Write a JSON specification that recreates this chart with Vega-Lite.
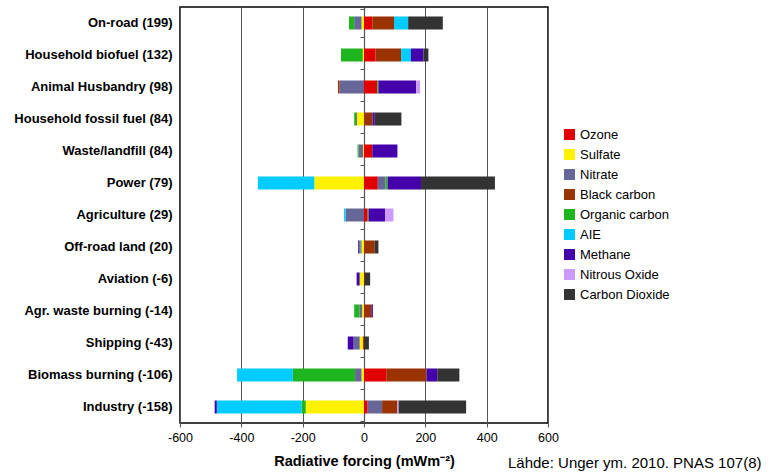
{
  "$schema": "https://vega.github.io/schema/vega-lite/v6.json",
  "autosize": {"type": "none"},
  "padding": {"left": 180, "top": 7, "right": 230, "bottom": 52},
  "width": 368,
  "height": 416,
  "background": "white",
  "config": {
    "font": "Liberation Sans",
    "view": {"stroke": "black", "strokeWidth": 1.5}
  },
  "title": {
    "text": "Lähde: Unger ym. 2010. PNAS 107(8)",
    "orient": "bottom",
    "anchor": "start",
    "frame": "group",
    "dx": 328,
    "offset": -12,
    "fontSize": 15,
    "fontWeight": "normal",
    "font": "Liberation Sans",
    "color": "black"
  },
  "datasets": {
    "componentOrder": [
      {"component": "Ozone", "rank": 1},
      {"component": "Sulfate", "rank": 2},
      {"component": "Nitrate", "rank": 3},
      {"component": "Black carbon", "rank": 4},
      {"component": "Organic carbon", "rank": 5},
      {"component": "AIE", "rank": 6},
      {"component": "Methane", "rank": 7},
      {"component": "Nitrous Oxide", "rank": 8},
      {"component": "Carbon Dioxide", "rank": 9}
    ]
  },
  "data": {
    "values": [
      {"source": "On-road (199)", "component": "Sulfate", "value": -8},
      {"source": "On-road (199)", "component": "Nitrate", "value": -24},
      {"source": "On-road (199)", "component": "Organic carbon", "value": -17},
      {"source": "On-road (199)", "component": "Ozone", "value": 27},
      {"source": "On-road (199)", "component": "Black carbon", "value": 71},
      {"source": "On-road (199)", "component": "AIE", "value": 46},
      {"source": "On-road (199)", "component": "Carbon Dioxide", "value": 113},

      {"source": "Household biofuel (132)", "component": "Sulfate", "value": -4},
      {"source": "Household biofuel (132)", "component": "Organic carbon", "value": -71},
      {"source": "Household biofuel (132)", "component": "Ozone", "value": 38},
      {"source": "Household biofuel (132)", "component": "Black carbon", "value": 83},
      {"source": "Household biofuel (132)", "component": "AIE", "value": 32},
      {"source": "Household biofuel (132)", "component": "Methane", "value": 41},
      {"source": "Household biofuel (132)", "component": "Carbon Dioxide", "value": 16},

      {"source": "Animal Husbandry (98)", "component": "Nitrate", "value": -80},
      {"source": "Animal Husbandry (98)", "component": "Black carbon", "value": -5},
      {"source": "Animal Husbandry (98)", "component": "Ozone", "value": 43},
      {"source": "Animal Husbandry (98)", "component": "Organic carbon", "value": 4},
      {"source": "Animal Husbandry (98)", "component": "Methane", "value": 123},
      {"source": "Animal Husbandry (98)", "component": "Nitrous Oxide", "value": 13},

      {"source": "Household fossil fuel (84)", "component": "Sulfate", "value": -23},
      {"source": "Household fossil fuel (84)", "component": "Nitrate", "value": -3},
      {"source": "Household fossil fuel (84)", "component": "Organic carbon", "value": -6},
      {"source": "Household fossil fuel (84)", "component": "Black carbon", "value": 28},
      {"source": "Household fossil fuel (84)", "component": "Methane", "value": 7},
      {"source": "Household fossil fuel (84)", "component": "Carbon Dioxide", "value": 87},

      {"source": "Waste/landfill (84)", "component": "Sulfate", "value": -3},
      {"source": "Waste/landfill (84)", "component": "Nitrate", "value": -15},
      {"source": "Waste/landfill (84)", "component": "Organic carbon", "value": -3},
      {"source": "Waste/landfill (84)", "component": "Ozone", "value": 27},
      {"source": "Waste/landfill (84)", "component": "Methane", "value": 82},

      {"source": "Power (79)", "component": "Sulfate", "value": -162},
      {"source": "Power (79)", "component": "AIE", "value": -184},
      {"source": "Power (79)", "component": "Ozone", "value": 45},
      {"source": "Power (79)", "component": "Nitrate", "value": 25},
      {"source": "Power (79)", "component": "Organic carbon", "value": 7},
      {"source": "Power (79)", "component": "Methane", "value": 109},
      {"source": "Power (79)", "component": "Carbon Dioxide", "value": 241},

      {"source": "Agriculture (29)", "component": "Nitrate", "value": -60},
      {"source": "Agriculture (29)", "component": "AIE", "value": -5},
      {"source": "Agriculture (29)", "component": "Ozone", "value": 12},
      {"source": "Agriculture (29)", "component": "Organic carbon", "value": 3},
      {"source": "Agriculture (29)", "component": "Methane", "value": 54},
      {"source": "Agriculture (29)", "component": "Nitrous Oxide", "value": 27},

      {"source": "Off-road land (20)", "component": "Sulfate", "value": -8},
      {"source": "Off-road land (20)", "component": "Nitrate", "value": -4},
      {"source": "Off-road land (20)", "component": "Organic carbon", "value": -3},
      {"source": "Off-road land (20)", "component": "Methane", "value": -4},
      {"source": "Off-road land (20)", "component": "Black carbon", "value": 35},
      {"source": "Off-road land (20)", "component": "Carbon Dioxide", "value": 12},

      {"source": "Aviation (-6)", "component": "Sulfate", "value": -13},
      {"source": "Aviation (-6)", "component": "Nitrate", "value": -2},
      {"source": "Aviation (-6)", "component": "Methane", "value": -9},
      {"source": "Aviation (-6)", "component": "Ozone", "value": 2},
      {"source": "Aviation (-6)", "component": "Carbon Dioxide", "value": 18},

      {"source": "Agr. waste burning (-14)", "component": "Sulfate", "value": -6},
      {"source": "Agr. waste burning (-14)", "component": "Nitrate", "value": -9},
      {"source": "Agr. waste burning (-14)", "component": "Organic carbon", "value": -17},
      {"source": "Agr. waste burning (-14)", "component": "Ozone", "value": 2},
      {"source": "Agr. waste burning (-14)", "component": "Black carbon", "value": 22},
      {"source": "Agr. waste burning (-14)", "component": "Methane", "value": 5},

      {"source": "Shipping (-43)", "component": "Ozone", "value": -3},
      {"source": "Shipping (-43)", "component": "Sulfate", "value": -11},
      {"source": "Shipping (-43)", "component": "Nitrate", "value": -20},
      {"source": "Shipping (-43)", "component": "Methane", "value": -19},
      {"source": "Shipping (-43)", "component": "Carbon Dioxide", "value": 16},

      {"source": "Biomass burning (-106)", "component": "Sulfate", "value": -8},
      {"source": "Biomass burning (-106)", "component": "Nitrate", "value": -21},
      {"source": "Biomass burning (-106)", "component": "Organic carbon", "value": -203},
      {"source": "Biomass burning (-106)", "component": "AIE", "value": -182},
      {"source": "Biomass burning (-106)", "component": "Ozone", "value": 74},
      {"source": "Biomass burning (-106)", "component": "Black carbon", "value": 130},
      {"source": "Biomass burning (-106)", "component": "Methane", "value": 35},
      {"source": "Biomass burning (-106)", "component": "Carbon Dioxide", "value": 72},

      {"source": "Industry (-158)", "component": "Sulfate", "value": -190},
      {"source": "Industry (-158)", "component": "Organic carbon", "value": -14},
      {"source": "Industry (-158)", "component": "AIE", "value": -276},
      {"source": "Industry (-158)", "component": "Methane", "value": -7},
      {"source": "Industry (-158)", "component": "Ozone", "value": 12},
      {"source": "Industry (-158)", "component": "Nitrate", "value": 47},
      {"source": "Industry (-158)", "component": "Black carbon", "value": 50},
      {"source": "Industry (-158)", "component": "Nitrous Oxide", "value": 4},
      {"source": "Industry (-158)", "component": "Carbon Dioxide", "value": 220}
    ]
  },
  "transform": [
    {"lookup": "component", "from": {"data": {"name": "componentOrder"}, "key": "component", "fields": ["rank"]}}
  ],
  "resolve": {"axis": {"y": "independent"}},
  "layer": [
    {
      "mark": {"type": "bar", "size": 13},
      "encoding": {
        "y": {
          "field": "source",
          "type": "nominal",
          "sort": null,
          "axis": {
            "orient": "left",
            "title": null,
            "ticks": false,
            "domain": false,
            "labelFontWeight": "bold",
            "labelFontSize": 13,
            "labelColor": "black",
            "labelPadding": 8,
            "labelFont": "Liberation Sans"
          }
        },
        "x": {
          "field": "value",
          "type": "quantitative",
          "stack": "zero",
          "scale": {"domain": [-600, 600], "nice": false},
          "axis": {
            "values": [-600, -400, -200, 0, 200, 400, 600],
            "labelExpr": "replace(datum.label, '−', '-')",
            "title": "Radiative forcing (mWm⁻²)",
            "titleFontSize": 14.5,
            "titleFontWeight": "bold",
            "titleColor": "black",
            "titlePadding": 11,
            "titleFont": "Liberation Sans",
            "labelFontSize": 12.5,
            "labelColor": "black",
            "labelFont": "Liberation Sans",
            "labelPadding": 4,
            "labelFlush": false,
            "labelOverlap": false,
            "tickSize": 4,
            "tickColor": "#555",
            "domain": false,
            "grid": true,
            "gridColor": "#555",
            "gridOpacity": 1,
            "gridWidth": 1
          }
        },
        "order": {"field": "rank", "type": "quantitative", "sort": "ascending"},
        "color": {
          "field": "component",
          "type": "nominal",
          "sort": ["Ozone", "Sulfate", "Nitrate", "Black carbon", "Organic carbon", "AIE", "Methane", "Nitrous Oxide", "Carbon Dioxide"],
          "scale": {
            "domain": ["Ozone", "Sulfate", "Nitrate", "Black carbon", "Organic carbon", "AIE", "Methane", "Nitrous Oxide", "Carbon Dioxide"],
            "range": ["#E00000", "#FFF200", "#666699", "#993300", "#1FB51F", "#00CCFF", "#4400AA", "#CC99FF", "#333333"]
          },
          "legend": {
            "orient": "none",
            "legendX": 383,
            "legendY": 121,
            "title": null,
            "symbolType": "square",
            "symbolSize": 120,
            "symbolStrokeWidth": 0,
            "symbolOpacity": 1,
            "labelFontSize": 13,
            "labelColor": "black",
            "labelFont": "Liberation Sans",
            "rowPadding": 6,
            "labelOffset": 4
          }
        }
      }
    },
    {
      "mark": {"type": "rule", "opacity": 0},
      "encoding": {
        "y": {
          "field": "source",
          "type": "nominal",
          "sort": null,
          "axis": {
            "orient": "left",
            "offset": -184,
            "title": null,
            "labels": false,
            "ticks": true,
            "tickSize": 4,
            "tickColor": "#555",
            "tickBand": "extent",
            "domain": true,
            "domainColor": "#555",
            "domainWidth": 1.2,
            "grid": false
          }
        }
      }
    }
  ]
}
